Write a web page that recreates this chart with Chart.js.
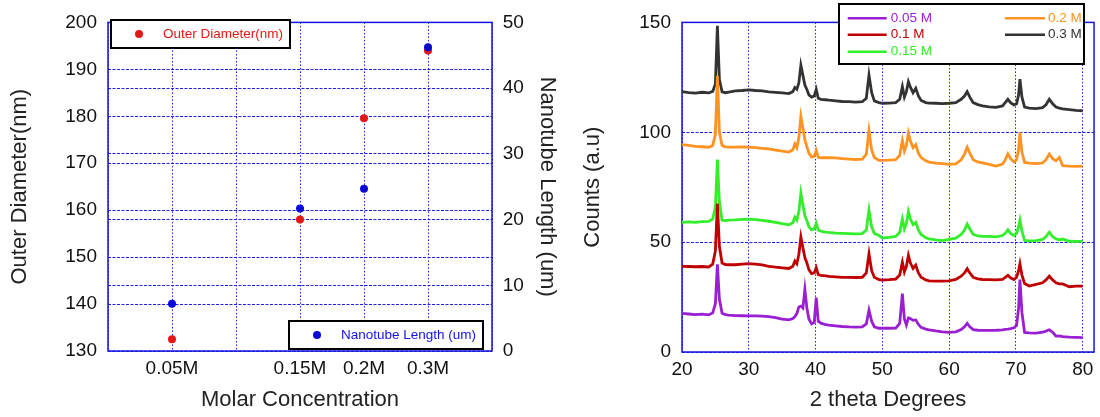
<!DOCTYPE html>
<html>
<head>
<meta charset="utf-8">
<script src="https://cdn.jsdelivr.net/npm/chart.js@4.4.1/dist/chart.umd.min.js"></script>
<style>
  html, body { margin: 0; padding: 0; background: #fff; }
  #wrap { position: relative; width: 1100px; height: 417px; overflow: hidden; }
  #sizeChart { position: absolute; left: 0; top: 0; }
  #xrdChart { position: absolute; left: 560px; top: 0; }
</style>
</head>
<body>
<div id="wrap">
  <canvas id="sizeChart" width="560" height="417"></canvas>
  <canvas id="xrdChart" width="540" height="417"></canvas>
</div>
<script>
// ---- Nanotube size vs. molar concentration ----
const concLabels = ['', '0.05M', '', '0.15M', '0.2M', '0.3M', ''];
const outerDiameter = [null, 132.5, null, 158.0, 179.6, 194.0, null];   // nm
const nanotubeLength = [null, 7.2, null, 21.7, 24.7, 46.2, null];       // um

// ---- XRD patterns ----
const thetaTicks = [20, 30, 40, 50, 60, 70, 80];
const twoTheta = [
  20, 21, 22, 23, 24, 24.6, 25.0, 25.3, 25.6, 26.0, 26.5, 27, 28, 29, 30, 31, 32, 33, 34, 35,
  36, 36.6, 36.9, 37.2, 37.5, 37.8, 38.1, 38.4, 38.7, 39.0, 39.4, 39.8, 40.1, 40.4, 40.8, 41.5,
  42, 43, 44, 45, 46, 47, 47.6, 48.0, 48.4, 48.8, 49.5, 50, 51, 52, 52.6, 53.0, 53.3, 53.6,
  53.9, 54.2, 54.6, 55.0, 55.4, 55.8, 56.5, 57, 58, 59, 60, 61, 61.8, 62.3, 62.7, 63.1, 63.6,
  64.3, 65, 66, 67, 68, 68.4, 68.8, 69.2, 69.7, 70.1, 70.4, 70.6, 70.9, 71.3, 72, 73, 74, 74.5,
  75.0, 75.5, 76, 76.5, 77, 78, 79, 80
];
const seriesNames = ['0.05 M', '0.1 M', '0.15 M', '0.2 M', '0.3 M'];
const counts005 = [
  17.6, 17.3, 17.0, 17.2, 16.9, 17.8, 22, 39.9, 24, 17.6, 17.0, 16.8, 16.6, 16.5, 16.4, 16.4, 16.3, 16.1, 15.6, 15.0,
  14.6, 15.2, 16.1, 17.5, 20.5, 20.9, 20, 28.6, 20, 15, 12.8, 13.5, 24.7, 14, 13.1, 12.5,
  12.2, 11.9, 11.6, 11.4, 11.3, 11.4, 12.8, 19.1, 14, 11.5, 10.8, 10.8, 10.8, 10.9, 13, 26.6, 15, 12.3,
  15.5, 15.2, 14.4, 14.6, 12.5, 11.2, 10.4, 10.1, 9.6, 9.2, 8.9, 9.2, 10.2, 11.5, 13.1, 11.5, 10.2,
  9.9, 9.8, 9.8, 9.9, 10.1, 10.3, 10.4, 10.6, 11, 12, 20, 33, 18, 8.9, 8.7, 8.6, 9, 9.5,
  10.1, 9, 7.2, 7.3, 7.0, 6.8, 6.7, 6.5
];
const counts010 = [
  39.0, 38.9, 38.8, 38.9, 38.7, 40, 46, 67.6, 48, 40.5, 39.8, 39.7, 39.7, 40.0, 40.2, 40.0, 39.6, 39.0, 38.6, 38.3,
  38.0, 39, 41.4, 40.2, 44.5, 52.3, 47.5, 43, 40.5, 37.5, 35.7, 36, 38.4, 35.2, 34.9, 34.6,
  34.4, 34.2, 34.0, 34.0, 33.9, 34.0, 36, 44.7, 37, 34, 32.9, 32.7, 32.9, 33.2, 35, 40.9, 36.5, 39,
  44, 40.5, 38, 39.5, 36, 34, 32.8, 32.4, 32.3, 32.3, 32.4, 33, 34.5, 36, 37.9, 36, 34,
  33.3, 33.0, 32.9, 32.8, 33, 34, 34.9, 33.8, 33, 34, 37, 40.2, 35, 31.2, 30.0, 30.8, 31.5, 32.8,
  34.5, 32.8, 31.5, 31, 31.0, 29.7, 30, 30.0
];
const counts015 = [
  59.0, 59.2, 59.0, 59.3, 59.4, 60.5, 66, 87.6, 68, 60.0, 59.8, 60.0, 60.1, 60.4, 60.5, 60.2, 59.9, 59.5, 59.0, 58.4,
  57.9, 58.8, 61.3, 60.0, 64, 72.3, 67, 62, 59.8, 57.0, 55.6, 56.0, 58.6, 55.5, 55.0, 54.6,
  54.4, 54.1, 54.0, 53.9, 53.8, 53.9, 55.5, 64.6, 57, 54, 53.0, 51.9, 52.2, 52.6, 54.5, 60.5, 56, 58.5,
  64, 60.5, 58.0, 59, 55.5, 53.5, 52.0, 51.5, 51.0, 50.7, 51.2, 51.8, 53.5, 55.5, 58.3, 56, 53.5,
  52.8, 52.6, 52.6, 52.4, 53.0, 54, 55.6, 54, 53, 54, 57, 60, 55, 50.8, 50.6, 50.7, 51.2, 52.5,
  54.5, 52.5, 51.5, 51.0, 51.4, 50.4, 50.3, 50.3
];
const counts020 = [
  94.4, 94.0, 93.6, 93.4, 93.2, 94.0, 99, 125.7, 100, 94.0, 93.4, 93.2, 93.2, 93.3, 93.2, 93.0, 92.7, 92.4, 91.9, 91.4,
  91.0, 92.0, 94.7, 93.0, 97.5, 107.2, 102, 96.5, 93.5, 90.5, 88.7, 89.0, 91.7, 88.6, 88.4, 88.4,
  88.4, 88.3, 88.0, 87.8, 87.6, 87.8, 90, 100.7, 92, 88.5, 87.2, 87.2, 87.3, 87.5, 89.5, 96.2, 91.5, 94,
  99.7, 96, 93, 94.4, 90.5, 88.5, 87.0, 86.4, 86.0, 85.7, 85.4, 85.6, 87.5, 90, 93.2, 90.5, 87.5,
  86.5, 86.1, 85.4, 84.6, 85.5, 87.5, 90.2, 88, 86.5, 87.5, 92, 100, 91, 86.3, 86.0, 85.7, 86.0, 87.5,
  90.1, 88, 87, 88.5, 84.8, 84.6, 84.5, 84.6
];
const counts030 = [
  118.5, 118.0, 117.8, 118.2, 117.9, 118.6, 122, 148.5, 124, 118.4, 118.0, 118.3, 118.8, 119.0, 119.3, 119.0, 118.8, 118.4, 118.2, 117.9,
  117.6, 118.5, 120.4, 119.6, 122.5, 130.5, 126, 121.5, 119.5, 117.0, 116.0, 116.5, 119.5, 115.5, 115.0, 114.8,
  114.6, 114.3, 114.0, 113.9, 113.7, 113.9, 115.5, 126, 118, 114.3, 113.5, 113.2, 113.3, 113.5, 115, 120.8, 116, 118.5,
  123, 120.5, 118.0, 120, 116.5, 114.5, 113.5, 113.3, 113.2, 113.0, 113.2, 113.5, 115, 116.5, 118.5, 116, 113.5,
  112.6, 112.0, 111.6, 111.3, 112.0, 113.5, 115, 113.5, 112.5, 113, 117, 124.2, 116, 111.5, 111.0, 110.8, 111.2, 112.5,
  115, 113, 111.5, 111, 110.6, 110.3, 110.0, 109.8
];
const xrdCounts = [counts005, counts010, counts015, counts020, counts030];
const xrdColors = ['#9a1fd2', '#c00000', '#33ee2a', '#ff9322', '#333333'];

const FONT = "'Liberation Sans', Arial, Helvetica, sans-serif";
const GRID_BLUE = '#1e1ee8';
Chart.defaults.font.family = FONT;
Chart.defaults.color = '#111';
Chart.defaults.animation = false;

// Solid blue frame around the plotting area
const framePlugin = {
  id: 'frame',
  beforeDatasetsDraw(chart, args, o) {
    const { ctx, chartArea: a } = chart;
    ctx.save();
    ctx.strokeStyle = o.color;
    ctx.lineWidth = o.width;
    ctx.strokeRect(a.left, a.top, a.right - a.left, a.bottom - a.top);
    ctx.restore();
  }
};

// Boxed legends placed inside the plot
const boxLegend = {
  id: 'boxLegend',
  afterDraw(chart, args, o) {
    const ctx = chart.ctx;
    (o.boxes || []).forEach(b => {
      ctx.save();
      ctx.fillStyle = '#fff';
      ctx.fillRect(b.x, b.y, b.w, b.h);
      ctx.lineWidth = 2;
      ctx.strokeStyle = '#000';
      ctx.strokeRect(b.x, b.y, b.w, b.h);
      ctx.font = o.font;
      ctx.textBaseline = 'middle';
      ctx.textAlign = 'left';
      b.items.forEach(it => {
        const ds = chart.data.datasets[it.index];
        const y = b.y + it.y;
        if (o.marker === 'dot') {
          ctx.beginPath();
          ctx.arc(b.x + it.mx, y, 4, 0, Math.PI * 2);
          ctx.fillStyle = ds.backgroundColor;
          ctx.fill();
        } else {
          ctx.beginPath();
          ctx.moveTo(b.x + it.lx0, y);
          ctx.lineTo(b.x + it.lx1, y);
          ctx.strokeStyle = ds.borderColor;
          ctx.lineWidth = 2.5;
          ctx.stroke();
        }
        ctx.fillStyle = ds.borderColor;
        ctx.fillText(ds.label, b.x + it.tx, y);
      });
      ctx.restore();
    });
  }
};

const tickFont = { size: 19, family: FONT };
const titleFont = { size: 22, family: FONT };

// ---------- Left panel ----------
new Chart(document.getElementById('sizeChart'), {
  type: 'line',
  data: {
    labels: concLabels,
    datasets: [
      {
        label: 'Outer Diameter(nm)', data: outerDiameter, yAxisID: 'y', order: 1,
        showLine: false, pointRadius: 4, pointBorderWidth: 0,
        backgroundColor: '#e51616', borderColor: '#e51616'
      },
      {
        label: 'Nanotube Length (um)', data: nanotubeLength, yAxisID: 'y2', order: 0,
        showLine: false, pointRadius: 4, pointBorderWidth: 0,
        backgroundColor: '#0a0ad2', borderColor: '#1212e6'
      }
    ]
  },
  options: {
    responsive: false,
    layout: { padding: { top: 17, right: 0, left: 0, bottom: 0 } },
    scales: {
      x: {
        type: 'category', offset: false,
        grid: { color: GRID_BLUE, lineWidth: 1, drawTicks: false },
        border: { display: false, dash: [1.5, 2] },
        ticks: { autoSkip: false, maxRotation: 0, padding: 6.6, font: tickFont, color: '#111' },
        title: { display: true, text: 'Molar Concentration', font: titleFont, color: '#222', padding: { top: 0, bottom: 4.3 } },
        afterFit(s) { s.height = 66; }
      },
      y: {
        position: 'left', min: 130, max: 200,
        grid: { color: GRID_BLUE, lineWidth: 1, drawTicks: false },
        border: { display: false, dash: [3, 1.5] },
        ticks: { stepSize: 10, padding: 11, font: tickFont, color: '#111' },
        title: { display: true, text: 'Outer Diameter(nm)', font: titleFont, color: '#222', padding: { top: 6.8, bottom: 0 } },
        afterFit(s) { s.width = 108; }
      },
      y2: {
        position: 'right', min: 0, max: 50,
        grid: { color: GRID_BLUE, lineWidth: 1, drawTicks: false },
        border: { display: false, dash: [3, 1.5] },
        ticks: { stepSize: 10, padding: 10.7, font: tickFont, color: '#111' },
        title: { display: true, text: 'Nanotube Length (um)', font: titleFont, color: '#222', padding: { top: 0, bottom: 0 } },
        afterFit(s) { s.width = 68; }
      }
    },
    plugins: {
      legend: { display: false },
      tooltip: { enabled: false },
      frame: { color: '#1414e0', width: 1.5 },
      boxLegend: {
        marker: 'dot',
        font: "13.5px " + FONT,
        boxes: [
          { x: 111, y: 20, w: 179, h: 28, items: [{ index: 0, mx: 28, tx: 52, y: 14 }] },
          { x: 289, y: 321, w: 194, h: 28, items: [{ index: 1, mx: 28, tx: 52, y: 14 }] }
        ]
      }
    }
  },
  plugins: [framePlugin, boxLegend]
});

// ---------- Right panel ----------
new Chart(document.getElementById('xrdChart'), {
  type: 'line',
  data: {
    datasets: seriesNames.map((name, k) => ({
      label: name,
      data: twoTheta.map((t, i) => ({ x: t, y: xrdCounts[k][i] })),
      borderColor: xrdColors[k],
      backgroundColor: xrdColors[k],
      borderWidth: 2.8,
      pointRadius: 0,
      tension: 0,
      fill: false
    }))
  },
  options: {
    responsive: false,
    layout: { padding: { top: 20, right: 5, left: 0, bottom: 0 } },
    scales: {
      x: {
        type: 'linear', min: 20, max: 81.7,
        afterBuildTicks(s) { s.ticks = thetaTicks.map(v => ({ value: v })); },
        grid: { color: GRID_BLUE, lineWidth: 1, drawTicks: false },
        border: { display: false, dash: [1.5, 2] },
        ticks: { padding: 6.6, font: tickFont, color: '#111', maxRotation: 0 },
        title: { display: true, text: '2 theta Degrees', font: titleFont, color: '#222', padding: { top: 0, bottom: 4 } },
        afterFit(s) { s.height = 65; }
      },
      y: {
        type: 'linear', min: 0, max: 150,
        grid: { color: GRID_BLUE, lineWidth: 1, drawTicks: false },
        border: { display: false, dash: [3, 1.5] },
        ticks: { stepSize: 50, padding: 11, font: tickFont, color: '#111' },
        title: { display: true, text: 'Counts (a.u)', font: titleFont, color: '#222', padding: { top: 20, bottom: 0 } },
        afterFit(s) { s.width = 122; }
      }
    },
    plugins: {
      legend: { display: false },
      tooltip: { enabled: false },
      frame: { color: '#1414e0', width: 1.5 },
      boxLegend: {
        marker: 'line',
        font: "13.5px " + FONT,
        boxes: [{
          x: 279, y: 4, w: 245, h: 60,
          items: [
            { index: 0, lx0: 8.7, lx1: 47.7, tx: 51.7, y: 14.3 },
            { index: 1, lx0: 8.7, lx1: 47.7, tx: 51.7, y: 30.7 },
            { index: 2, lx0: 8.7, lx1: 47.7, tx: 51.7, y: 47.7 },
            { index: 3, lx0: 166, lx1: 206, tx: 209, y: 14.3 },
            { index: 4, lx0: 166, lx1: 206, tx: 209, y: 30.7 }
          ]
        }]
      }
    }
  },
  plugins: [framePlugin, boxLegend]
});
</script>
</body>
</html>
